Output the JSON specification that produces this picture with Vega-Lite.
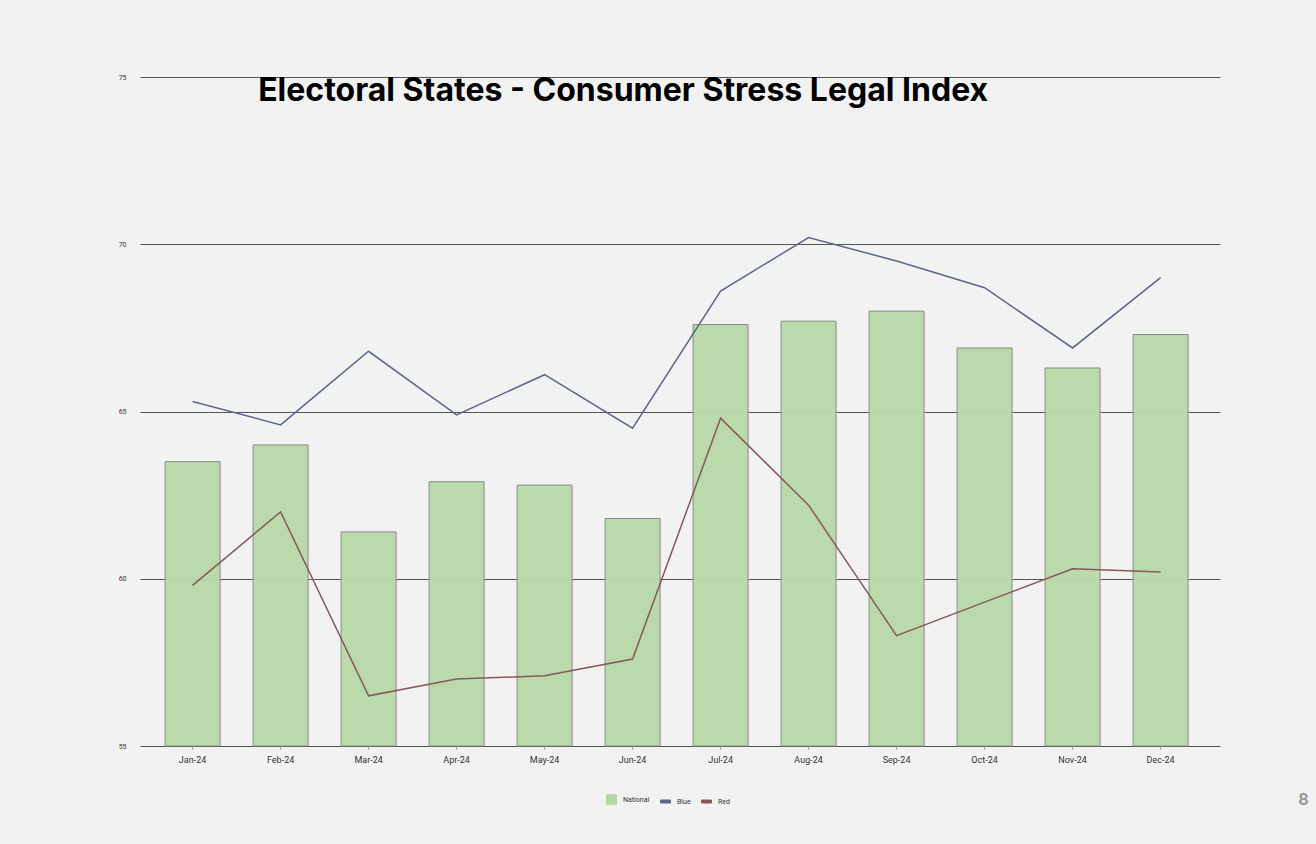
{
  "$schema": "https://vega.github.io/schema/vega-lite/v6.json",
  "autosize": {"type": "none"},
  "width": 1080,
  "height": 669,
  "padding": {"left": 140, "top": 77, "right": 96, "bottom": 98},
  "background": "#f2f2f2",
  "config": {
    "view": {"stroke": null},
    "font": "Roboto",
    "legend": {
      "title": null,
      "orient": "none",
      "direction": "horizontal",
      "legendX": 466,
      "legendY": 717,
      "labelFontSize": 7,
      "labelColor": "#333333",
      "labelBaseline": "middle",
      "symbolSize": 100,
      "symbolType": "square",
      "symbolStrokeWidth": 1,
      "columnPadding": 8,
      "labelOffset": 6
    }
  },
  "title": {
    "text": "Electoral States - Consumer Stress Legal Index",
    "anchor": "start",
    "font": "Inter",
    "fontSize": 32,
    "fontWeight": "bold",
    "color": "#000000",
    "dx": 140,
    "dy": 35,
    "offset": 0
  },
  "data": {
    "values": [
      {"month": "Jan-24", "National": 63.5, "Blue": 65.3, "Red": 59.8},
      {"month": "Feb-24", "National": 64.0, "Blue": 64.6, "Red": 62.0},
      {"month": "Mar-24", "National": 61.4, "Blue": 66.8, "Red": 56.5},
      {"month": "Apr-24", "National": 62.9, "Blue": 64.9, "Red": 57.0},
      {"month": "May-24", "National": 62.8, "Blue": 66.1, "Red": 57.1},
      {"month": "Jun-24", "National": 61.8, "Blue": 64.5, "Red": 57.6},
      {"month": "Jul-24", "National": 67.6, "Blue": 68.6, "Red": 64.8},
      {"month": "Aug-24", "National": 67.7, "Blue": 70.2, "Red": 62.2},
      {"month": "Sep-24", "National": 68.0, "Blue": 69.5, "Red": 58.3},
      {"month": "Oct-24", "National": 66.9, "Blue": 68.7, "Red": 59.3},
      {"month": "Nov-24", "National": 66.3, "Blue": 66.9, "Red": 60.3},
      {"month": "Dec-24", "National": 67.3, "Blue": 69.0, "Red": 60.2}
    ]
  },
  "encoding": {
    "x": {
      "field": "month",
      "type": "nominal",
      "sort": null,
      "scale": {"paddingInner": 0.375, "paddingOuter": 0.324, "align": 0.44},
      "axis": {
        "title": "8",
        "titleX": 1163,
        "titleY": 53,
        "titleAlign": "center",
        "titleBaseline": "middle",
        "titleFont": "Inter",
        "titleFontSize": 16,
        "titleFontWeight": "bold",
        "titleColor": "#9a9a9a",
        "labelAngle": 0,
        "labelFontSize": 9,
        "labelColor": "#333333",
        "labelPadding": 6,
        "domain": false,
        "ticks": true,
        "tickSize": 3,
        "tickColor": "#999999",
        "grid": false
      }
    }
  },
  "layer": [
    {
      "mark": {"type": "bar", "stroke": "#8a8a8a", "strokeWidth": 1, "fillOpacity": 0.95},
      "encoding": {
        "y": {
          "field": "National",
          "type": "quantitative",
          "scale": {"domain": [55, 75], "zero": false, "nice": false},
          "axis": {
            "title": null,
            "values": [55, 60, 65, 70, 75],
            "labelFontSize": 7,
            "labelColor": "#333333",
            "labelPadding": 14,
            "domain": false,
            "ticks": false,
            "grid": true,
            "gridColor": "#555555",
            "gridWidth": 1,
            "gridOpacity": 1
          }
        },
        "y2": {"datum": 55},
        "color": {
          "datum": "National",
          "type": "nominal",
          "scale": {"domain": ["National", "Blue", "Red"], "range": ["#b6d8a6", "#5c6889", "#86595b"]},
          "legend": {
            "labelColor": "#333333",
            "symbolType": "square",
            "encode": {
              "labels": {"update": {"fill": {"value": "#333333"}, "baseline": {"value": "middle"}}},
              "symbols": {
                "update": {
                  "shape": {"signal": "datum.value === 'National' ? 'square' : 'M-1,-0.3H1V0.3H-1Z'"},
                  "fill": {"signal": "scale('color', datum.value)"},
                  "fillOpacity": {"value": 1},
                  "stroke": {"signal": "datum.value === 'National' ? '#8a8a8a' : scale('color', datum.value)"},
                  "strokeWidth": {"value": 1}
                }
              }
            }
          }
        }
      }
    },
    {
      "transform": [{"fold": ["Blue", "Red"], "as": ["series", "value"]}],
      "mark": {"type": "line", "strokeWidth": 1.5},
      "encoding": {
        "y": {"field": "value", "type": "quantitative"},
        "color": {
          "field": "series",
          "type": "nominal",
          "legend": {
            "labelColor": "#333333",
            "symbolType": "square",
            "encode": {
              "labels": {"update": {"fill": {"value": "#333333"}, "baseline": {"value": "middle"}}},
              "symbols": {
                "update": {
                  "shape": {"signal": "datum.value === 'National' ? 'square' : 'M-1,-0.3H1V0.3H-1Z'"},
                  "fill": {"signal": "scale('color', datum.value)"},
                  "fillOpacity": {"value": 1},
                  "stroke": {"signal": "datum.value === 'National' ? '#8a8a8a' : scale('color', datum.value)"},
                  "strokeWidth": {"value": 1}
                }
              }
            }
          }
        },
        "detail": {"field": "series"}
      }
    }
  ]
}
